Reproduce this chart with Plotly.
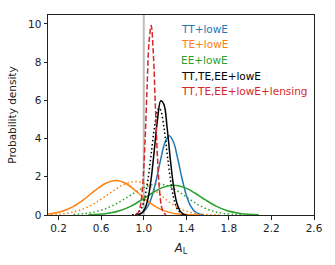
import plotly.graph_objects as go

# ---- data ----
tt_x = [0.92, 0.96, 1.00, 1.04, 1.08, 1.12, 1.16, 1.20, 1.24, 1.28, 1.32, 1.36, 1.40, 1.44, 1.48, 1.52, 1.56]
tt_y = [0.016, 0.059, 0.182, 0.474, 1.035, 1.900, 2.932, 3.805, 4.15, 3.805, 2.932, 1.900, 1.035, 0.474, 0.182, 0.059, 0.016]

te_x = [0.04, 0.14, 0.24, 0.34, 0.44, 0.54, 0.64, 0.74, 0.84, 0.94, 1.04, 1.14, 1.24, 1.34, 1.44, 1.54]
te_y = [0.026, 0.079, 0.206, 0.449, 0.824, 1.272, 1.650, 1.80, 1.623, 1.191, 0.710, 0.345, 0.136, 0.044, 0.011, 0.002]

te_dot_x = [0.13, 0.23, 0.33, 0.43, 0.53, 0.63, 0.73, 0.83, 0.93, 1.03, 1.13, 1.23, 1.33, 1.43, 1.53, 1.63, 1.73]
te_dot_y = [0.022, 0.061, 0.148, 0.315, 0.584, 0.944, 1.330, 1.634, 1.75, 1.585, 1.179, 0.719, 0.360, 0.148, 0.050, 0.014, 0.003]

ee_x = [0.48, 0.58, 0.68, 0.78, 0.88, 0.98, 1.08, 1.18, 1.28, 1.38, 1.48, 1.58, 1.68, 1.78, 1.88, 1.98, 2.08]
ee_y = [0.012, 0.038, 0.102, 0.235, 0.465, 0.789, 1.153, 1.446, 1.56, 1.446, 1.153, 0.789, 0.465, 0.235, 0.102, 0.038, 0.012]

ee_dot_x = [0.34, 0.44, 0.54, 0.64, 0.74, 0.84, 0.94, 1.04, 1.14, 1.24, 1.34, 1.44, 1.54, 1.64, 1.74, 1.84, 1.94]
ee_dot_y = [0.027, 0.071, 0.163, 0.329, 0.584, 0.913, 1.255, 1.520, 1.62, 1.495, 1.176, 0.789, 0.450, 0.219, 0.091, 0.032, 0.010]

all_x = [0.92, 0.95, 0.98, 1.01, 1.04, 1.07, 1.10, 1.13, 1.16, 1.19, 1.22, 1.25, 1.28, 1.31, 1.34, 1.37, 1.40]
all_y = [0.005, 0.023, 0.096, 0.321, 0.869, 1.920, 3.447, 5.035, 5.981, 5.778, 4.541, 2.902, 1.509, 0.638, 0.219, 0.061, 0.014]

all_dot_x = [0.89, 0.92, 0.95, 0.98, 1.01, 1.04, 1.07, 1.10, 1.13, 1.145, 1.16, 1.19, 1.22, 1.25, 1.28, 1.31, 1.34, 1.37, 1.40]
all_dot_y = [0.009, 0.037, 0.129, 0.376, 0.918, 1.876, 3.205, 4.581, 5.476, 5.60, 5.476, 4.581, 3.205, 1.876, 0.918, 0.376, 0.129, 0.037, 0.009]

lens_x = [0.93, 0.95, 0.97, 0.99, 1.01, 1.03, 1.05, 1.07, 1.09, 1.11, 1.13, 1.15, 1.17, 1.19, 1.21]
lens_y = [0.028, 0.138, 0.526, 1.560, 3.605, 6.487, 9.091, 9.922, 8.434, 5.583, 2.879, 1.155, 0.361, 0.088, 0.017]

ref_line_x = 1.0

legend_labels = ["TT+lowE", "TE+lowE", "EE+lowE", "TT,TE,EE+lowE", "TT,TE,EE+lowE+lensing"]
legend_colors = ["#1f77b4", "#ff7f0e", "#2ca02c", "#000000", "#d62728"]
legend_y = [9.74, 8.95, 8.12, 7.28, 6.49]

x_ticks = [0.2, 0.6, 1.0, 1.4, 1.8, 2.2, 2.6]
y_ticks = [0, 2, 4, 6, 8, 10]

# ---- figure ----
fig = go.Figure()
DOT = "1.5px,2.5px"
DASH = "5.5px,2.4px"

def add(x, y, color, dash="solid", width=1.5):
    fig.add_trace(go.Scatter(x=x, y=y, mode="lines",
                             line=dict(color=color, width=width, dash=dash, shape="spline"),
                             showlegend=False, hoverinfo="skip"))

add(te_dot_x, te_dot_y, legend_colors[1], DOT)
add(ee_dot_x, ee_dot_y, legend_colors[2], DOT)
add(tt_x, tt_y, legend_colors[0])
add(te_x, te_y, legend_colors[1])
add(ee_x, ee_y, legend_colors[2])
add(all_dot_x, all_dot_y, legend_colors[3], DOT)
add(all_x, all_y, legend_colors[3])
add(lens_x, lens_y, legend_colors[4], DASH)

fig.add_shape(type="line", x0=ref_line_x, x1=ref_line_x, y0=0, y1=1, xref="x", yref="paper",
              line=dict(color="#bdbdbd", width=2), layer="below")

for lab, col, yy in zip(legend_labels, legend_colors, legend_y):
    fig.add_annotation(x=1.33, y=yy, xref="x", yref="y", text=lab, showarrow=False,
                       xanchor="left", yanchor="middle",
                       font=dict(family="DejaVu Sans", size=10.5, color=col))

axis_common = dict(showgrid=False, zeroline=False, showline=True, linecolor="#222222",
                   linewidth=1, mirror=True, ticks="outside", ticklen=3.5, tickwidth=1,
                   tickcolor="#222222",
                   tickfont=dict(family="DejaVu Sans", size=10.5, color="#222222"))

fig.update_layout(
    width=335, height=265,
    margin=dict(l=48, r=18, t=15, b=50),
    paper_bgcolor="white", plot_bgcolor="white",
    font=dict(family="DejaVu Sans", color="#222222"),
    xaxis=dict(range=[0.1, 2.6], tickvals=x_ticks, ticktext=[f"{v:.1f}" for v in x_ticks],
               title=dict(text="<i>A</i><sub>L</sub>", font=dict(family="DejaVu Sans", size=11.5), standoff=10),
               **axis_common),
    yaxis=dict(range=[0, 10.47], tickvals=y_ticks,
               title=dict(text="Probability density", font=dict(family="DejaVu Sans", size=10.5), standoff=9),
               **axis_common),
)

fig.write_html("out.html", config={"displayModeBar": False},
               post_script="document.body.style.margin='0';document.body.style.overflow='hidden';")
